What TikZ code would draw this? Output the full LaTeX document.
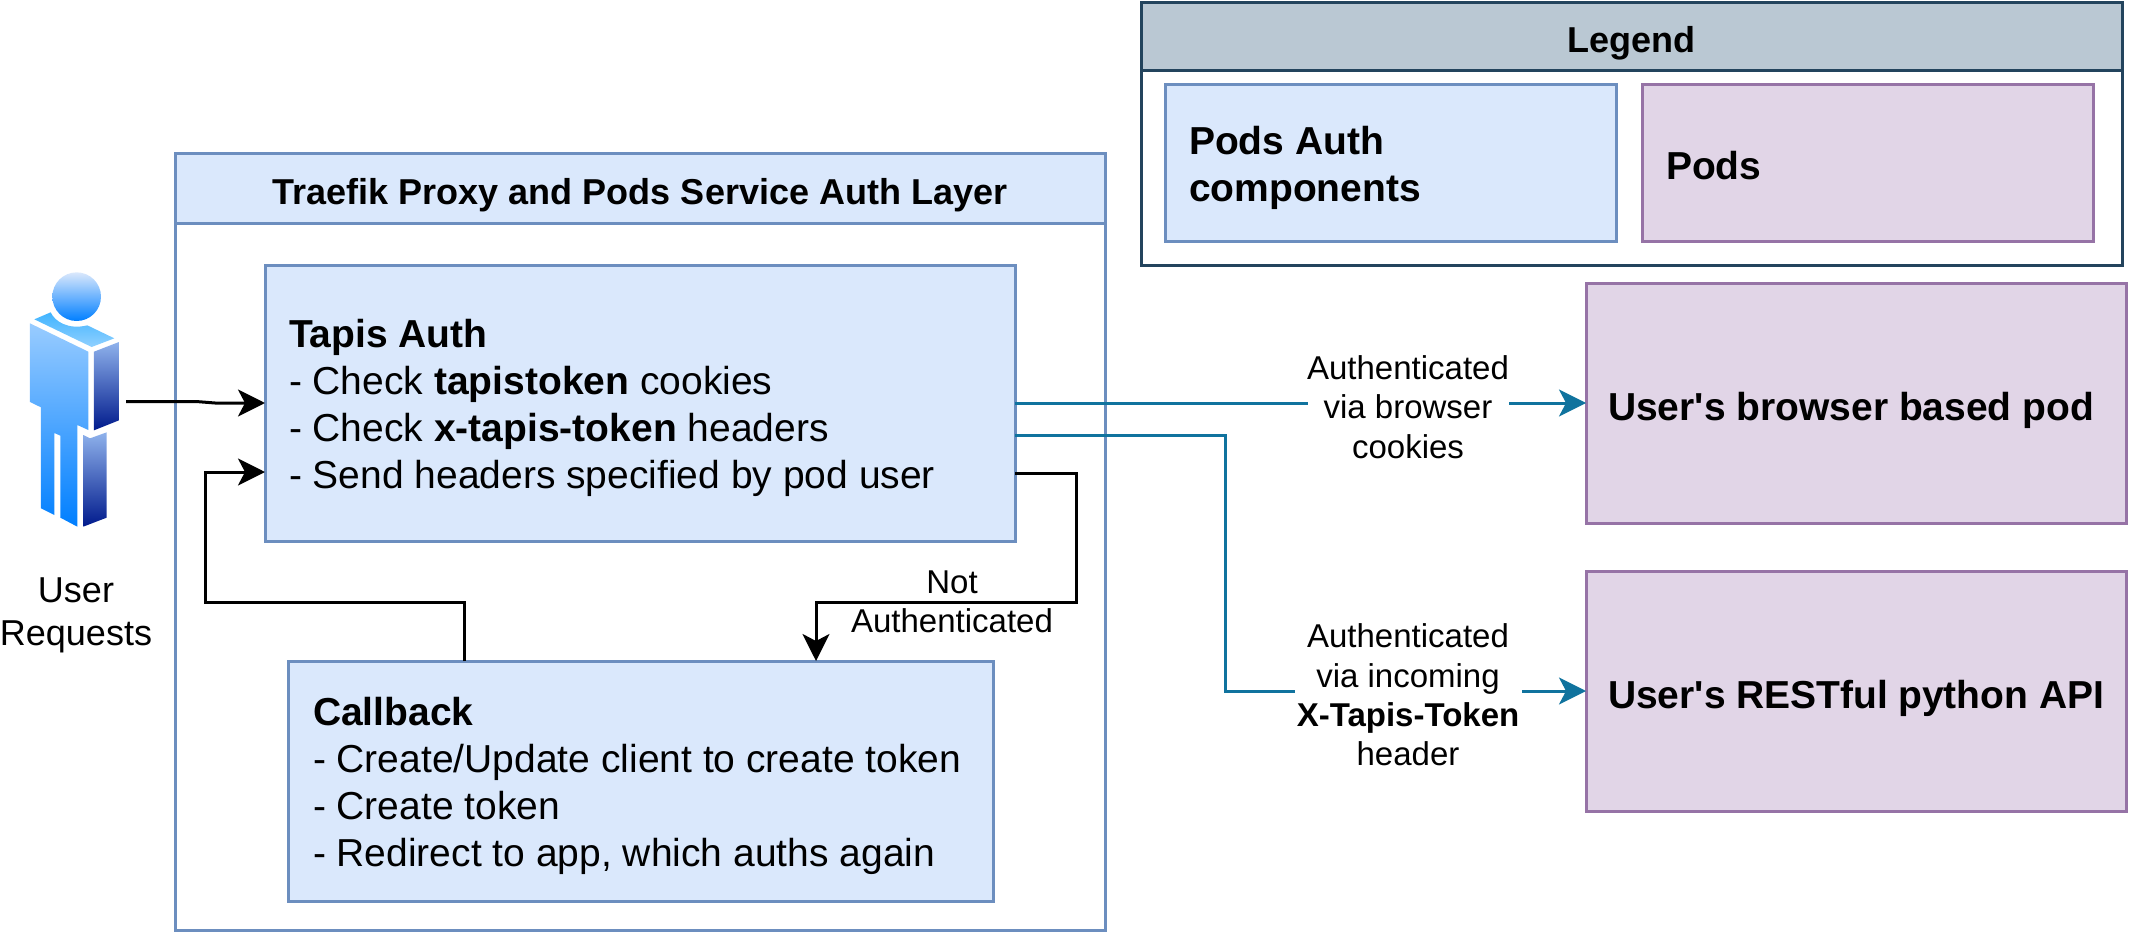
\documentclass[tikz,border=0pt]{standalone}
\usepackage{fontspec}
\setmainfont{Liberation Sans}
\usetikzlibrary{arrows.meta}
\definecolor{authfill}{HTML}{DAE8FC}
\definecolor{authline}{HTML}{6C8EBF}
\definecolor{podfill}{HTML}{E1D5E7}
\definecolor{podline}{HTML}{9673A6}
\definecolor{legfill}{HTML}{BAC8D3}
\definecolor{legline}{HTML}{23445D}
\definecolor{blueline}{HTML}{10739E}
\definecolor{skyA}{HTML}{DAE8FC}
\definecolor{skyB}{HTML}{007FFF}
\definecolor{shoulderA}{HTML}{40B4FF}
\definecolor{shoulderB}{HTML}{90D0FF}
\definecolor{torsoA}{HTML}{99CCFF}
\definecolor{navyA}{HTML}{8FB2EC}
\definecolor{navyB}{HTML}{001A8C}
\newcommand{\lowfirst}{\rule{0pt}{39pt}}
\tikzset{
  boxbase/.style={anchor=north west,line width=3pt,outer sep=0pt,inner ysep=0pt},
  authbox/.style={boxbase,draw=authline,fill=authfill},
  podbox/.style={boxbase,draw=podline,fill=podfill},
  bignote/.style={font=\fontsize{39}{47}\selectfont,align=flush left},
  boldnote/.style={font=\bfseries\fontsize{39}{47}\selectfont,align=flush left},
  headtext/.style={font=\bfseries\fontsize{36}{42}\selectfont,text height=32pt,text depth=0pt},
  onelinelow/.style={text height=34pt,text depth=0pt},
  flow/.style={line width=3pt,-{Stealth[length=27pt,width=27pt,inset=7pt]}},
  blueflow/.style={flow,draw=blueline},
  plainflow/.style={line width=3pt,draw=blueline},
  edgelabel/.style={font=\fontsize{33}{39.4}\selectfont,align=flush center,inner sep=0pt,outer sep=0pt},
}
\begin{document}
\begin{tikzpicture}[x=1pt,y=-1pt]
\useasboundingbox (0,0) rectangle (2130,936);
% Group
\node[boxbase,draw=authline,fill=white,minimum width=930pt,minimum height=777pt] (group) at (175,153.5) {};
\node[authbox,headtext,minimum width=930pt,minimum height=69.5pt] (grouphead) at (175,153.5) {Traefik Proxy and Pods Service Auth Layer};
% Tapis
\node[authbox,bignote,text width=702pt,inner xsep=24pt,minimum height=276pt] (tapis) at (265,265) {\lowfirst\textbf{Tapis Auth}\\- Check \textbf{tapistoken} cookies\\- Check \textbf{x-tapis-token} headers\\- Send headers specified by pod user};
% Callback
\node[authbox,bignote,text width=655pt,inner xsep=25pt,minimum height=240pt] (callback) at (288,661) {\lowfirst\textbf{Callback}\\- Create/Update client to create token\\- Create token\\- Redirect to app, which auths again};
% Legend
\node[boxbase,draw=legline,fill=white,minimum width=981pt,minimum height=262.5pt] (legend) at (1141,2.5) {};
\node[boxbase,draw=legline,fill=legfill,headtext,minimum width=981pt,minimum height=68pt] (legendhead) at (1141,2.5) {Legend};
\node[authbox,boldnote,text width=403pt,inner xsep=24pt,minimum height=156pt] (legauth) at (1165,85) {\lowfirst Pods Auth\\components};
\node[podbox,boldnote,onelinelow,text width=403pt,inner xsep=24pt,minimum height=156pt] (legpods) at (1642,85) {Pods};
% Pods
\node[podbox,boldnote,onelinelow,text width=496pt,inner xsep=22pt,minimum height=240pt] (browserpod) at (1586,283) {User\textquotesingle s browser based pod};
\node[podbox,boldnote,onelinelow,text width=496pt,inner xsep=22pt,minimum height=240pt] (apipod) at (1586,571) {User\textquotesingle s RESTful python API};
% Person
\begin{scope}[shift={(0,250)},x=0.33333pt,y=-0.33333pt]
\shade[top color=skyA,bottom color=skyB] (230,140) circle (73);
\shade[top color=shoulderA,bottom color=shoulderB]
  (103,208) -- (152,187) .. controls (165,215) and (205,240) .. (262,226) -- (343,265) -- (275,291) -- cycle;
\shade[top color=torsoA,bottom color=skyB]
  (90,220) -- (265,305) -- (265,540) -- (232,525) -- (232,830) -- (181,803) -- (181,557) -- (163,549) -- (163,795) -- (123,775) -- (123,472) -- (90,456) -- cycle;
\shade[top color=navyA,bottom color=navyB]
  (282,305) -- (357,276) -- (357,511) -- (282,541) -- cycle;
\shade[top color=navyA,bottom color=navyB]
  (250,555) -- (270,565) -- (320,547) -- (320,803) -- (250,830) -- cycle;
\end{scope}
\node[font=\fontsize{36}{43}\selectfont,align=flush center,inner sep=0pt] (user) at (76,615) {User\\Requests};
% Named anchor points
\coordinate (userout) at (126,401.5);
\coordinate (tapisin) at (tapis.west |- 0,403);
\coordinate (tapisback) at (265,472);
\coordinate (tapisA) at (1015,403);
\coordinate (tapisB) at (1015,435);
\coordinate (tapisC) at (1015,473);
\coordinate (callbackout) at (464.5,661);
\coordinate (callbackin) at (816,661);
\coordinate (browserin) at (browserpod.west);
\coordinate (apiin) at (apipod.west);
% Black connectors
\draw[flow] (userout) -- (196,401.5) -- (215,403) -- (tapisin);
\draw[flow] (callbackout) -- (464.5,602) -- (205,602) -- (205,472) -- (tapisback);
\draw[flow] (tapisC) -- (1076,473) -- (1076,602) -- (816,602) -- (callbackin);
\node[edgelabel] (notauth) at (952,602) {Not\\Authenticated};
% Blue connectors
\draw[plainflow] (tapisA) -- (1308,403);
\draw[blueflow] (1509,403) -- (browserin);
\node[edgelabel] (viacookies) at (1408,407) {Authenticated\\via browser\\cookies};
\draw[plainflow] (tapisB) -- (1225,435) -- (1225,691) -- (1295,691);
\draw[blueflow] (1522,691) -- (apiin);
\node[edgelabel] (viaheader) at (1408,695) {Authenticated\\via incoming\\\textbf{X-Tapis-Token}\\header};
\end{tikzpicture}
\end{document}
